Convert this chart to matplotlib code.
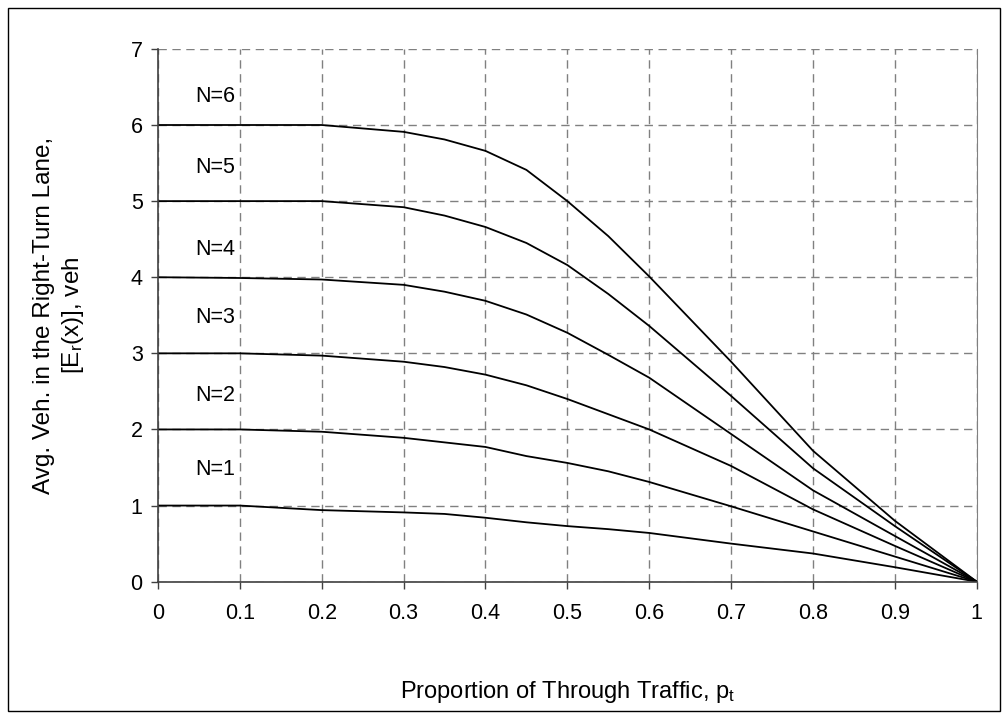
import matplotlib
matplotlib.use("Agg")
import matplotlib.pyplot as plt
from matplotlib.patches import Rectangle

plt.rcParams["font.family"] = ["Liberation Sans", "DejaVu Sans"]
plt.rcParams["mathtext.fontset"] = "custom"
plt.rcParams["mathtext.rm"] = "Liberation Sans"

# proportion of through traffic
p_t = [0, 0.1, 0.2, 0.3, 0.35, 0.4, 0.45, 0.5, 0.55, 0.6, 0.7, 0.8, 0.9, 1.0]

# average vehicles in the right-turn lane for each N
er_n1 = [1.00, 1.00, 0.94, 0.91, 0.89, 0.84, 0.78, 0.73, 0.69, 0.64, 0.50, 0.37, 0.19, 0]
er_n2 = [2.00, 2.00, 1.97, 1.89, 1.83, 1.77, 1.65, 1.56, 1.45, 1.31, 0.99, 0.66, 0.33, 0]
er_n3 = [3.00, 3.00, 2.97, 2.89, 2.82, 2.72, 2.58, 2.40, 2.20, 2.00, 1.52, 0.95, 0.47, 0]
er_n4 = [4.00, 3.99, 3.97, 3.90, 3.81, 3.69, 3.51, 3.27, 2.98, 2.68, 1.94, 1.20, 0.60, 0]
er_n5 = [5.00, 5.00, 5.00, 4.92, 4.81, 4.66, 4.45, 4.16, 3.78, 3.36, 2.44, 1.49, 0.73, 0]
er_n6 = [6.00, 6.00, 6.00, 5.91, 5.81, 5.66, 5.41, 5.00, 4.54, 4.01, 2.89, 1.72, 0.80, 0]

curves = [er_n1, er_n2, er_n3, er_n4, er_n5, er_n6]
labels = ["N=1", "N=2", "N=3", "N=4", "N=5", "N=6"]
label_y = [1.47, 2.45, 3.47, 4.36, 5.44, 6.37]

fig = plt.figure(figsize=(10.08, 7.19), dpi=100)
ax = fig.add_axes([0.1567, 0.191, 0.8123, 0.741])

for vals in curves:
    ax.plot(p_t, vals, color="black", linewidth=1.3)

for lab, ly in zip(labels, label_y):
    ax.text(0.045, ly, lab, fontsize=15.5, va="center", ha="left")

ax.set_xlim(0, 1)
ax.set_ylim(0, 7)
ax.set_xticks([i / 10 for i in range(11)])
ax.set_xticklabels(["0", "0.1", "0.2", "0.3", "0.4", "0.5", "0.6", "0.7", "0.8", "0.9", "1"])
ax.set_yticks(range(8))

ax.grid(True, color="#808080", linestyle=(0, (6, 4)), linewidth=1.0)
ax.set_axisbelow(True)
for side in ["left", "bottom"]:
    ax.spines[side].set_color("#404040")
    ax.spines[side].set_linewidth(1.2)
ax.spines["right"].set_color("#808080")
ax.spines["top"].set_visible(False)
ax.tick_params(axis="both", direction="out", length=5, width=1.0, color="#404040",
               labelsize=15.5, pad=6)
ax.tick_params(axis="x", pad=10)

ax.set_xlabel("Proportion of Through Traffic, $\\mathregular{p_t}$", fontsize=17, labelpad=40)
ax.set_ylabel("Avg. Veh. in the Right-Turn Lane,\n[$\\mathregular{E_r}$(x)], veh", fontsize=17.5,
              labelpad=32, linespacing=1.25)

# frame around the whole chart
fig.patches.append(Rectangle((0.008, 0.011), 0.984, 0.978, transform=fig.transFigure,
                             fill=False, edgecolor="black", linewidth=1.0))

fig.savefig("out.png", dpi=100)
